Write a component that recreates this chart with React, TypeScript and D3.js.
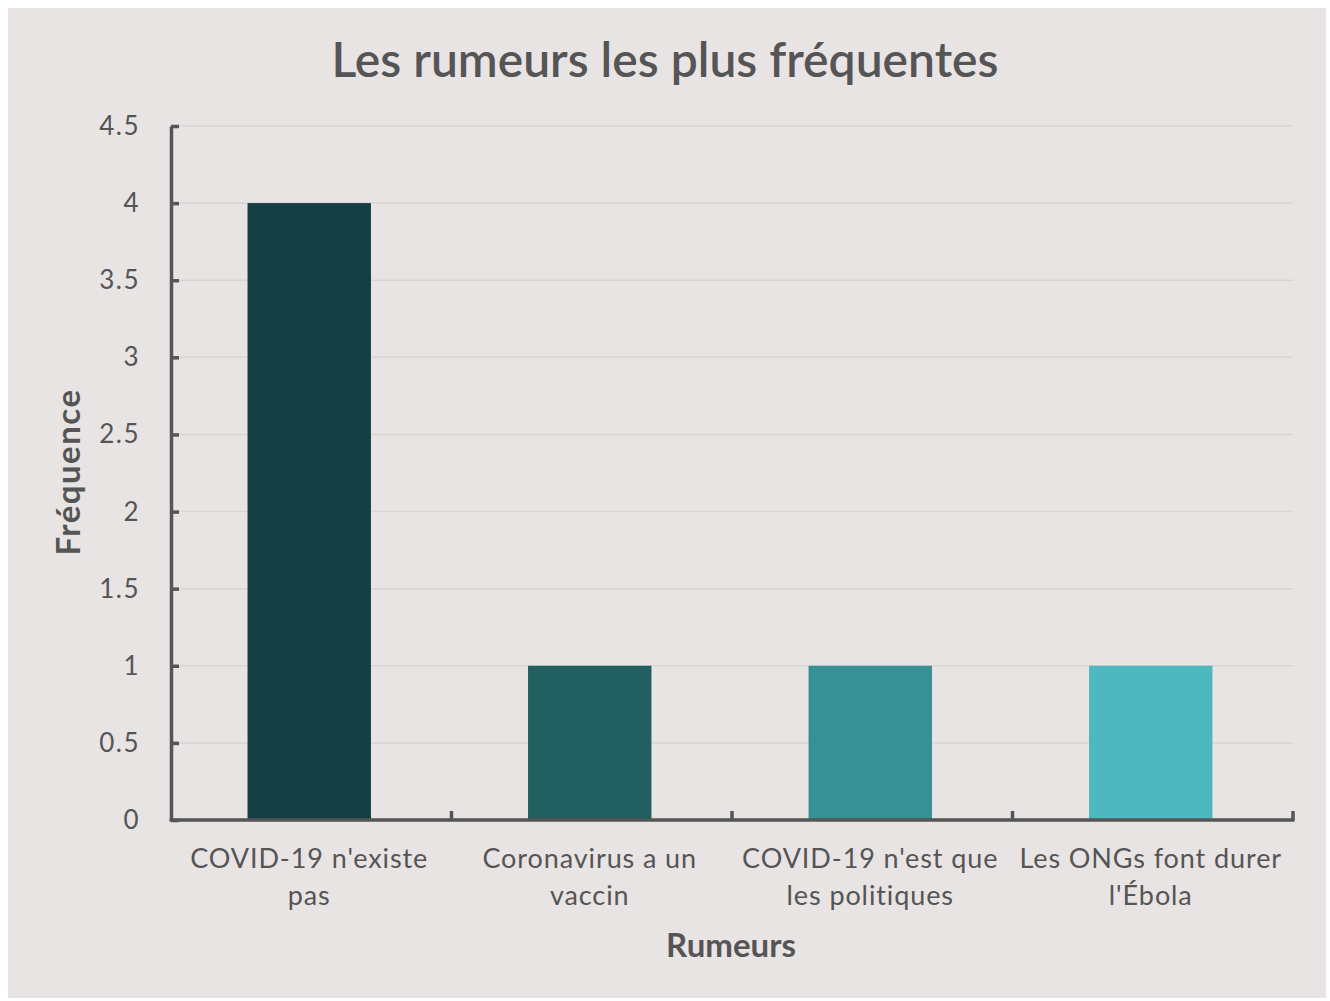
import React, { useEffect, useRef } from 'react'
import * as d3 from 'd3'

// Chart data
const rumeurs = [
  ["COVID-19 n'existe", 'pas'],
  ['Coronavirus a un', 'vaccin'],
  ["COVID-19 n'est que", 'les politiques'],
  ['Les ONGs font durer', "l'Ébola"],
]
const frequences = [4, 1, 1, 1]
const couleurs = ['#163e45', '#215f60', '#379093', '#4db8bf']
const yTicks = [0, 0.5, 1, 1.5, 2, 2.5, 3, 3.5, 4, 4.5]

const FONT = 'Lato, "Open Sans", sans-serif'
const INK = '#555555'

export default function App() {
  const ref = useRef<SVGSVGElement>(null)

  useEffect(() => {
    if (!ref.current) return
    const svg = d3.select(ref.current)
    svg.selectAll('*').remove()

    const W = 1330, H = 1001
    const margin = { left: 171, right: 37, top: 126, bottom: 181 }

    // panel background
    svg.append('rect')
      .attr('x', 8).attr('y', 8)
      .attr('width', 1318).attr('height', 990)
      .attr('fill', '#e8e4e3')

    const x = d3.scaleBand<number>()
      .domain(d3.range(rumeurs.length))
      .range([margin.left, W - margin.right])
      .paddingInner(0)
      .paddingOuter(0)

    const y = d3.scaleLinear()
      .domain([0, 4.5])
      .range([H - margin.bottom, margin.top])

    // gridlines
    svg.append('g')
      .selectAll('line')
      .data(yTicks.slice(1))
      .join('line')
        .attr('x1', margin.left)
        .attr('x2', W - margin.right)
        .attr('y1', d => y(d))
        .attr('y2', d => y(d))
        .attr('stroke', '#d8d5d4')
        .attr('stroke-width', 1.5)

    // bars
    const barW = x.bandwidth() * 0.44
    svg.append('g')
      .selectAll('rect')
      .data(frequences)
      .join('rect')
        .attr('x', (d, i) => x(i)! + (x.bandwidth() - barW) / 2 - 2)
        .attr('y', d => y(d))
        .attr('width', barW)
        .attr('height', d => y(0) - y(d))
        .attr('fill', (d, i) => couleurs[i])

    // y axis
    const yAxis = d3.axisRight(y)
      .tickValues(yTicks)
      .tickSize(8)
      .tickSizeOuter(0)
      .tickFormat(() => '')
    const gy = svg.append('g')
      .attr('transform', `translate(${margin.left},0)`)
      .call(yAxis)
    gy.selectAll('path, line').attr('stroke', INK).attr('stroke-width', 3.5)

    svg.append('g')
      .selectAll('text')
      .data(yTicks)
      .join('text')
        .attr('x', 140)
        .attr('y', d => y(d) + 9)
        .attr('text-anchor', 'end')
        .attr('font-family', FONT)
        .attr('font-size', 26)
        .attr('letter-spacing', 1.5)
        .attr('fill', INK)
        .text(d => String(d))

    // x axis
    const xEdges = d3.range(rumeurs.length + 1).map(i => margin.left + i * x.step())
    svg.append('line')
      .attr('x1', margin.left - 1.5).attr('x2', W - margin.right + 1.5)
      .attr('y1', y(0)).attr('y2', y(0))
      .attr('stroke', INK).attr('stroke-width', 3.5)
    svg.append('g')
      .selectAll('line')
      .data(xEdges.slice(1))
      .join('line')
        .attr('x1', d => d).attr('x2', d => d)
        .attr('y1', y(0)).attr('y2', y(0) - 9)
        .attr('stroke', INK).attr('stroke-width', 3.5)

    const labels = svg.append('g')
      .selectAll('text')
      .data(rumeurs)
      .join('text')
        .attr('text-anchor', 'middle')
        .attr('font-family', FONT)
        .attr('font-size', 27)
        .attr('letter-spacing', 0.9)
        .attr('fill', INK)
    labels.selectAll('tspan')
      .data((d, i) => d.map(line => ({ line, i })))
      .join('tspan')
        .attr('x', d => x(d.i)! + x.bandwidth() / 2 - 2)
        .attr('y', (d, j) => 868 + j * 37)
        .text(d => d.line)

    // axis titles
    svg.append('text')
      .attr('x', 731).attr('y', 957)
      .attr('text-anchor', 'middle')
      .attr('font-family', FONT)
      .attr('font-weight', 700)
      .attr('font-size', 33)
      .attr('fill', INK)
      .text('Rumeurs')

    svg.append('text')
      .attr('transform', 'translate(80,472) rotate(-90)')
      .attr('text-anchor', 'middle')
      .attr('font-family', FONT)
      .attr('font-weight', 700)
      .attr('font-size', 33)
      .attr('letter-spacing', 1.5)
      .attr('fill', INK)
      .text('Fréquence')

    // title
    svg.append('text')
      .attr('x', 665).attr('y', 77)
      .attr('text-anchor', 'middle')
      .attr('font-family', FONT)
      .attr('font-weight', 600)
      .attr('font-size', 48)
      .attr('fill', INK)
      .text('Les rumeurs les plus fréquentes')
  }, [])

  return (
    <svg
      ref={ref}
      width={1330}
      height={1001}
      style={{ position: 'absolute', left: 0, top: 0, background: '#ffffff' }}
    />
  )
}
